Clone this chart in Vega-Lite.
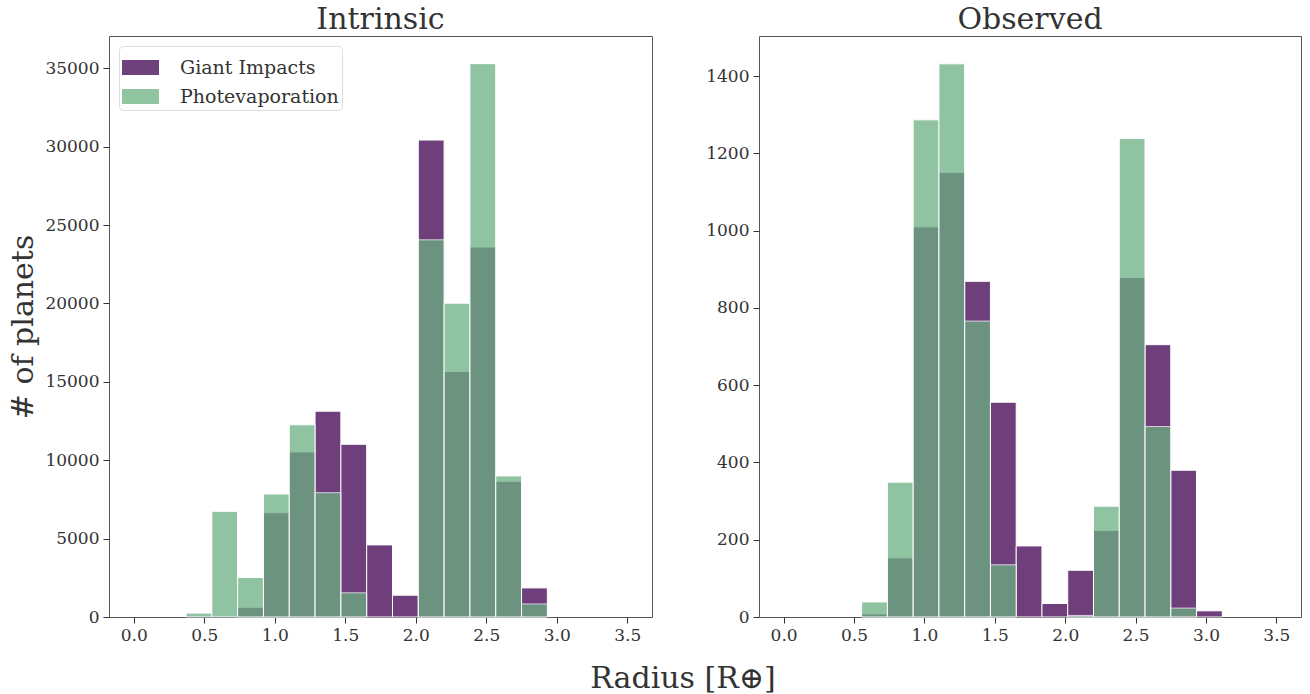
{
  "$schema": "https://vega.github.io/schema/vega-lite/v6.json",
  "background": "white",
  "padding": {"left": 8, "top": 4, "right": 8, "bottom": 0},
  "config": {
    "font": "DejaVu Serif",
    "view": {"stroke": "#555", "strokeWidth": 1},
    "axis": {"labelFont": "DejaVu Serif", "labelFontSize": 17, "labelColor": "#333", "tickColor": "#333", "tickSize": 6, "labelPadding": 4, "domain": false, "grid": false, "titleFont": "DejaVu Serif", "titleFontWeight": "normal", "titleColor": "#333"},
    "title": {"font": "DejaVu Serif", "fontSize": 30, "fontWeight": "normal", "color": "#333", "offset": 1},
    "legend": {"labelFont": "DejaVu Serif"}
  },
  "datasets": {
    "intrinsic": [
      {"model": "Giant Impacts", "x0": 0.737, "x1": 0.920, "count": 620},
      {"model": "Giant Impacts", "x0": 0.920, "x1": 1.103, "count": 6650},
      {"model": "Giant Impacts", "x0": 1.103, "x1": 1.286, "count": 10530},
      {"model": "Giant Impacts", "x0": 1.286, "x1": 1.469, "count": 13130},
      {"model": "Giant Impacts", "x0": 1.469, "x1": 1.652, "count": 11020},
      {"model": "Giant Impacts", "x0": 1.652, "x1": 1.835, "count": 4600},
      {"model": "Giant Impacts", "x0": 1.835, "x1": 2.018, "count": 1390},
      {"model": "Giant Impacts", "x0": 2.018, "x1": 2.201, "count": 30425},
      {"model": "Giant Impacts", "x0": 2.201, "x1": 2.384, "count": 15660},
      {"model": "Giant Impacts", "x0": 2.384, "x1": 2.567, "count": 23600},
      {"model": "Giant Impacts", "x0": 2.567, "x1": 2.750, "count": 8660},
      {"model": "Giant Impacts", "x0": 2.750, "x1": 2.933, "count": 1855},
      {"model": "Photevaporation", "x0": 0.371, "x1": 0.554, "count": 250},
      {"model": "Photevaporation", "x0": 0.554, "x1": 0.737, "count": 6740},
      {"model": "Photevaporation", "x0": 0.737, "x1": 0.920, "count": 2520},
      {"model": "Photevaporation", "x0": 0.920, "x1": 1.103, "count": 7850},
      {"model": "Photevaporation", "x0": 1.103, "x1": 1.286, "count": 12260},
      {"model": "Photevaporation", "x0": 1.286, "x1": 1.469, "count": 7930},
      {"model": "Photevaporation", "x0": 1.469, "x1": 1.652, "count": 1540},
      {"model": "Photevaporation", "x0": 2.018, "x1": 2.201, "count": 24060},
      {"model": "Photevaporation", "x0": 2.201, "x1": 2.384, "count": 20020},
      {"model": "Photevaporation", "x0": 2.384, "x1": 2.567, "count": 35300},
      {"model": "Photevaporation", "x0": 2.567, "x1": 2.750, "count": 9000},
      {"model": "Photevaporation", "x0": 2.750, "x1": 2.933, "count": 830}
    ],
    "observed": [
      {"model": "Giant Impacts", "x0": 0.554, "x1": 0.737, "count": 8},
      {"model": "Giant Impacts", "x0": 0.737, "x1": 0.920, "count": 153},
      {"model": "Giant Impacts", "x0": 0.920, "x1": 1.103, "count": 1010},
      {"model": "Giant Impacts", "x0": 1.103, "x1": 1.286, "count": 1151},
      {"model": "Giant Impacts", "x0": 1.286, "x1": 1.469, "count": 869},
      {"model": "Giant Impacts", "x0": 1.469, "x1": 1.652, "count": 556},
      {"model": "Giant Impacts", "x0": 1.652, "x1": 1.835, "count": 184},
      {"model": "Giant Impacts", "x0": 1.835, "x1": 2.018, "count": 35},
      {"model": "Giant Impacts", "x0": 2.018, "x1": 2.201, "count": 121},
      {"model": "Giant Impacts", "x0": 2.201, "x1": 2.384, "count": 224},
      {"model": "Giant Impacts", "x0": 2.384, "x1": 2.567, "count": 879},
      {"model": "Giant Impacts", "x0": 2.567, "x1": 2.750, "count": 705},
      {"model": "Giant Impacts", "x0": 2.750, "x1": 2.933, "count": 380},
      {"model": "Giant Impacts", "x0": 2.933, "x1": 3.116, "count": 16},
      {"model": "Photevaporation", "x0": 0.554, "x1": 0.737, "count": 39},
      {"model": "Photevaporation", "x0": 0.737, "x1": 0.920, "count": 349},
      {"model": "Photevaporation", "x0": 0.920, "x1": 1.103, "count": 1287},
      {"model": "Photevaporation", "x0": 1.103, "x1": 1.286, "count": 1432},
      {"model": "Photevaporation", "x0": 1.286, "x1": 1.469, "count": 766},
      {"model": "Photevaporation", "x0": 1.469, "x1": 1.652, "count": 135},
      {"model": "Photevaporation", "x0": 2.018, "x1": 2.201, "count": 4},
      {"model": "Photevaporation", "x0": 2.201, "x1": 2.384, "count": 287},
      {"model": "Photevaporation", "x0": 2.384, "x1": 2.567, "count": 1239},
      {"model": "Photevaporation", "x0": 2.567, "x1": 2.750, "count": 493},
      {"model": "Photevaporation", "x0": 2.750, "x1": 2.933, "count": 23}
    ]
  },
  "title": {"text": "Radius [R⊕]", "orient": "bottom", "anchor": "middle", "fontSize": 30, "dx": 28, "offset": 20},
  "resolve": {"legend": {"color": "independent"}},
  "spacing": 52,
  "hconcat": [
    {
      "data": {"name": "intrinsic"},
      "title": {"text": "Intrinsic"},
      "width": 543,
      "height": 581,
      "mark": {"type": "bar", "opacity": 0.75, "stroke": "white", "strokeWidth": 1, "binSpacing": 0},
      "encoding": {
        "x": {"field": "x0", "type": "quantitative", "scale": {"domain": [-0.175, 3.675], "nice": false, "zero": false}, "axis": {"values": [0, 0.5, 1, 1.5, 2, 2.5, 3, 3.5], "format": ".1f", "title": null}},
        "x2": {"field": "x1"},
        "y": {"field": "count", "type": "quantitative", "stack": null, "scale": {"domain": [0, 37063], "nice": false}, "axis": {"values": [0, 5000, 10000, 15000, 20000, 25000, 30000, 35000], "format": "d", "title": "# of planets", "titleFontSize": 30, "titlePadding": 6}},
        "y2": {"datum": 0},
        "color": {"field": "model", "type": "nominal", "scale": {"domain": ["Giant Impacts", "Photevaporation"], "range": ["#3e0050", "#6cb082"]},
          "legend": {"title": null, "orient": "top-left", "offset": 10, "labelFontSize": 19, "labelColor": "#333", "fillColor": "white", "strokeColor": "#ddd", "cornerRadius": 4, "padding": 3, "rowPadding": 0, "labelOffset": 21, "symbolType": "M-1,-0.4H1V0.4H-1Z", "symbolSize": 1369, "symbolOpacity": 0.75, "symbolStrokeWidth": 0}
        }
      }
    },
    {
      "data": {"name": "observed"},
      "title": {"text": "Observed"},
      "width": 542,
      "height": 581,
      "mark": {"type": "bar", "opacity": 0.75, "stroke": "white", "strokeWidth": 1, "binSpacing": 0},
      "encoding": {
        "x": {"field": "x0", "type": "quantitative", "scale": {"domain": [-0.175, 3.675], "nice": false, "zero": false}, "axis": {"values": [0, 0.5, 1, 1.5, 2, 2.5, 3, 3.5], "format": ".1f", "title": null}},
        "x2": {"field": "x1"},
        "y": {"field": "count", "type": "quantitative", "stack": null, "scale": {"domain": [0, 1504], "nice": false}, "axis": {"values": [0, 200, 400, 600, 800, 1000, 1200, 1400], "format": "d", "title": null}},
        "y2": {"datum": 0},
        "color": {"field": "model", "type": "nominal", "scale": {"domain": ["Giant Impacts", "Photevaporation"], "range": ["#3e0050", "#6cb082"]}, "legend": null}
      }
    }
  ]
}
